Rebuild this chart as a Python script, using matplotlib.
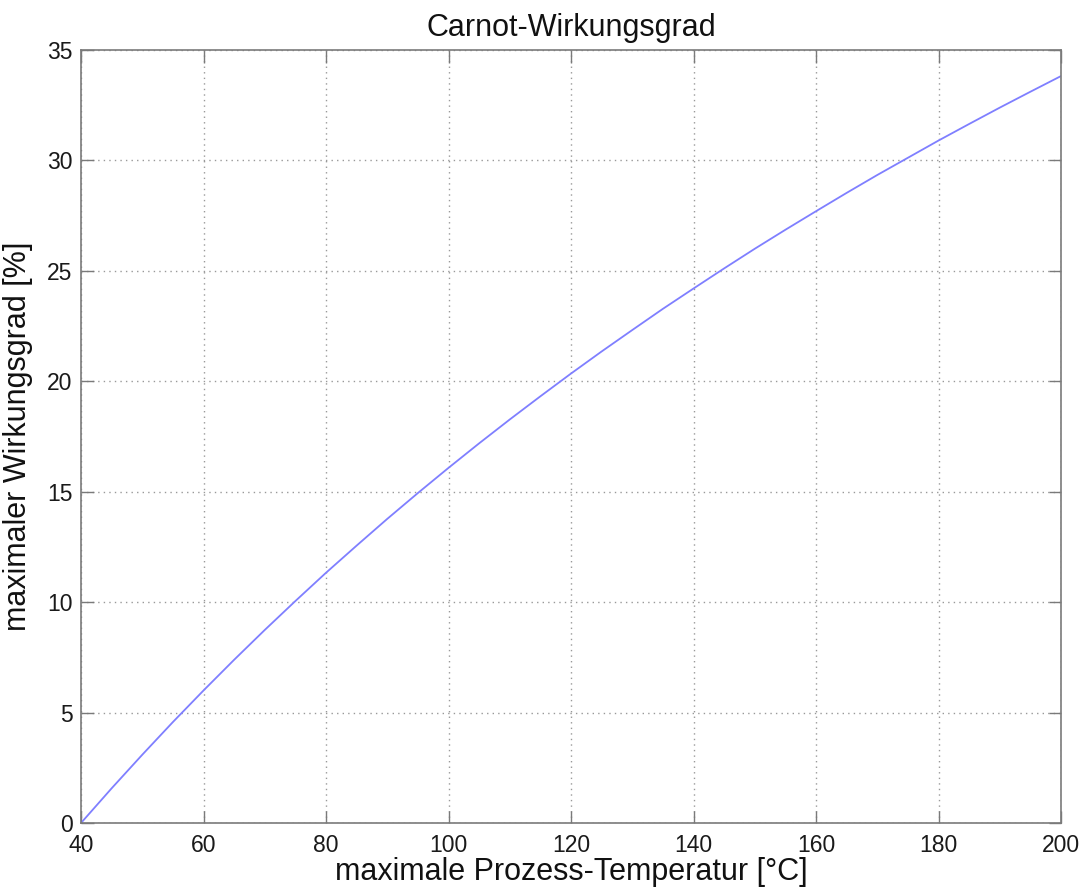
import matplotlib
matplotlib.use("Agg")
import matplotlib.pyplot as plt

temperature_c = [40, 45, 50, 55, 60, 65, 70, 75, 80, 85, 90, 95, 100, 105, 110, 115, 120,
                 125, 130, 135, 140, 145, 150, 155, 160, 165, 170, 175, 180, 185, 190, 195, 200]
efficiency_pct = [0.0, 1.57, 3.09, 4.57, 6.0, 7.39, 8.74, 10.05, 11.33, 12.56, 13.77, 14.94,
                  16.08, 17.19, 18.27, 19.32, 20.35, 21.35, 22.32, 23.28, 24.2, 25.11, 26.0,
                  26.86, 27.7, 28.53, 29.34, 30.12, 30.9, 31.65, 32.39, 33.11, 33.82]
x_ticks = [40, 60, 80, 100, 120, 140, 160, 180, 200]
y_ticks = [0, 5, 10, 15, 20, 25, 30, 35]

plt.rcParams['font.family'] = ['Liberation Sans', 'DejaVu Sans']

fig = plt.figure(figsize=(10.88, 8.92), dpi=100)
ax = fig.add_axes([81 / 1088, 1 - 823 / 892, (1061 - 81) / 1088, (823 - 50) / 892])
ax.plot(temperature_c, efficiency_pct, color='#7f7fff', linewidth=1.3)
ax.set_xlim(40, 200)
ax.set_ylim(0, 35)
ax.set_xticks(x_ticks)
ax.set_yticks(y_ticks)
ax.grid(True, linestyle=(0, (1, 3)), color='#999999', linewidth=1.0)
for s in ax.spines.values():
    s.set_color('#7a7a7a')
    s.set_linewidth(1.2)
ax.tick_params(direction='in', length=9, width=1.0, color='#7a7a7a', top=True, right=True,
               labelsize=16.5, labelcolor='#1a1a1a')
ax.tick_params(axis='x', pad=8)
ax.tick_params(axis='y', pad=6)
ax.set_title('Carnot-Wirkungsgrad', fontsize=22, pad=10, color='#111111')
ax.set_xlabel('maximale Prozess-Temperatur [°C]', fontsize=22, labelpad=0, color='#111111')
ax.set_ylabel('maximaler Wirkungsgrad [%]', fontsize=22, labelpad=10, color='#111111')
fig.savefig('out.png', dpi=100)
